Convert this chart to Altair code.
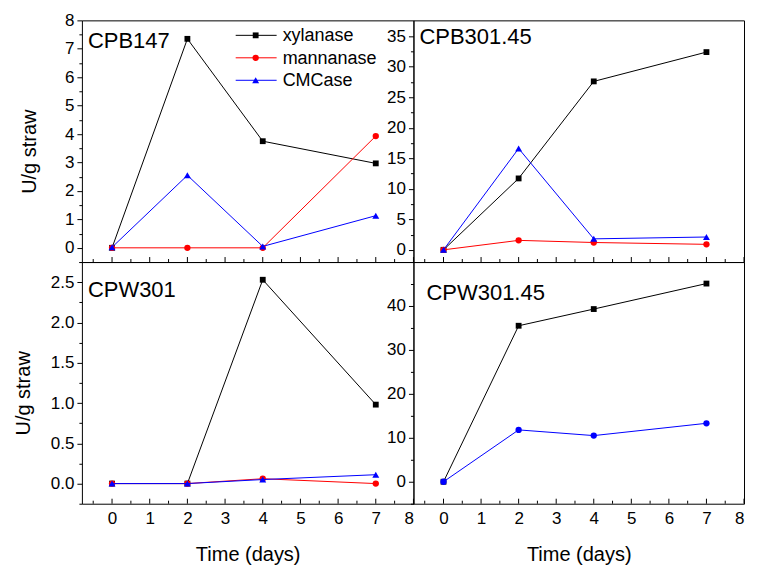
import altair as alt
import pandas as pd

# ---------------- data ----------------
days = [0, 2, 4, 7]
series_names = ["xylanase", "mannanase", "CMCase"]

cpb147 = {
    "xylanase": [0.0, 7.35, 3.75, 2.97],
    "mannanase": [0.0, 0.0, 0.0, 3.93],
    "CMCase": [0.02, 2.55, 0.05, 1.13],
}
cpb30145 = {
    "xylanase": [0.0, 11.7, 27.6, 32.4],
    "mannanase": [0.0, 1.55, 1.2, 0.9],
    "CMCase": [0.0, 16.6, 1.8, 2.1],
}
cpw301 = {
    "xylanase": [0.0, 0.0, 2.53, 0.98],
    "mannanase": [0.0, 0.0, 0.06, 0.0],
    "CMCase": [0.0, 0.0, 0.05, 0.11],
}
cpw30145 = {
    "xylanase": [0.0, 35.5, 39.3, 45.1],
    "CMCase": [0.0, 11.8, 10.5, 13.3],
}

x_major = [0, 1, 2, 3, 4, 5, 6, 7, 8]
x_minor = [-0.5, 0.5, 1.5, 2.5, 3.5, 4.5, 5.5, 6.5, 7.5]

# ---------------- style ----------------
FONT = "Liberation Sans"
W_L, W_R, H = 332, 331, 242
style = {
    "xylanase": dict(color="black", shape="square", size=34),
    "mannanase": dict(color="#FF0000", shape="circle", size=40),
    "CMCase": dict(color="#0000FF", shape="triangle-up", size=48),
}
x_scale = alt.Scale(domain=[-0.8, 8], nice=False, zero=False)


def panel(name, data, ydom, ymaj, ymin, yfmt, width, ytitle, show_x, lab_xy,
          legend=False, shape_override=None, title_x=-42):
    shape_override = shape_override or {}
    yscale = alt.Scale(domain=ydom, nice=False, zero=False)
    layers = []

    # minor y ticks
    layers.append(
        alt.Chart(pd.DataFrame({"v": ymin})).mark_point(opacity=0).encode(
            y=alt.Y("v:Q", scale=yscale,
                    axis=alt.Axis(values=ymin, labels=False, tickSize=3, domain=False,
                                  orient="left", grid=False, title=None, tickColor="black")),
        )
    )

    first = True
    for s, vals in data.items():
        st = dict(style[s])
        st.update(shape_override.get(s, {}))
        df = pd.DataFrame({"day": days, "value": vals})
        if first:
            yaxis = alt.Axis(values=ymaj, format=yfmt, tickSize=5, tickColor="black",
                             orient="left",
                             labelFontSize=17, labelPadding=3, labelColor="black",
                             domain=False, grid=False,
                             title=ytitle if ytitle else None,
                             titleFontSize=20, titleFontWeight="normal", titleColor="black",
                             titleX=title_x, titleY=131)
            if show_x:
                xaxis = alt.Axis(values=x_major, format="d", ticks=False, domain=False,
                                 orient="bottom",
                                 grid=False, labelFontSize=17, labelPadding=7,
                                 labelColor="black", title="Time (days)", titleFontSize=20,
                                 titleFontWeight="normal", titleColor="black",
                                 titlePadding=18)
            else:
                xaxis = None
        else:
            yaxis = None
            xaxis = None
        first = False
        enc = dict(
            x=alt.X("day:Q", scale=x_scale, axis=xaxis),
            y=alt.Y("value:Q", scale=yscale, axis=yaxis),
        )
        layers.append(alt.Chart(df).mark_line(color=st["color"], strokeWidth=1).encode(**enc))
        enc2 = dict(
            x=alt.X("day:Q", scale=x_scale, axis=None),
            y=alt.Y("value:Q", scale=yscale, axis=None),
        )
        layers.append(
            alt.Chart(df).mark_point(filled=True, opacity=1, color=st["color"],
                                     shape=st["shape"], size=st["size"]).encode(**enc2)
        )

    # inward x ticks
    layers.append(
        alt.Chart(pd.DataFrame({"p": x_major})).mark_rule(color="black", strokeWidth=1).encode(
            x=alt.X("p:Q", scale=x_scale, axis=None), y=alt.value(H), y2=alt.value(H - 5))
    )
    layers.append(
        alt.Chart(pd.DataFrame({"p": x_minor})).mark_rule(color="black", strokeWidth=1).encode(
            x=alt.X("p:Q", scale=x_scale, axis=None), y=alt.value(H), y2=alt.value(H - 3))
    )

    # panel label
    layers.append(
        alt.Chart(pd.DataFrame({"t": [name]})).mark_text(
            align="left", baseline="alphabetic", fontSize=22, font=FONT, color="black"
        ).encode(text="t:N", x=alt.value(lab_xy[0]), y=alt.value(lab_xy[1]))
    )

    if legend:
        for i, s in enumerate(series_names):
            st = style[s]
            ry = 15 + i * 22.5
            ldf = pd.DataFrame({"t": [s]})
            layers.append(alt.Chart(ldf).mark_rule(color=st["color"], strokeWidth=1).encode(
                x=alt.value(154), x2=alt.value(195), y=alt.value(ry)))
            layers.append(alt.Chart(ldf).mark_point(filled=True, opacity=1, color=st["color"],
                                                    shape=st["shape"], size=st["size"]).encode(
                x=alt.value(174), y=alt.value(ry)))
            layers.append(alt.Chart(ldf).mark_text(align="left", baseline="middle", fontSize=18,
                                                   font=FONT, color="black").encode(
                text="t:N", x=alt.value(201), y=alt.value(ry + 1)))

    return alt.layer(*layers).resolve_axis(x="independent", y="independent").properties(
        width=width, height=H)


p1 = panel("CPB147", cpb147, [-0.5, 8], [0, 1, 2, 3, 4, 5, 6, 7, 8],
           [0.5 * i for i in range(-1, 17) if i % 2], "d", W_L, "U/g straw", False, (6, 28),
           legend=True, title_x=-42)
p2 = panel("CPB301.45", cpb30145, [-2, 37.6], [0, 5, 10, 15, 20, 25, 30, 35],
           [2.5 * i for i in range(0, 15) if i % 2], "d", W_R, None, False, (6, 24))
p3 = panel("CPW301", cpw301, [-0.25, 2.75], [0, 0.5, 1.0, 1.5, 2.0, 2.5],
           [-0.25, 0.25, 0.75, 1.25, 1.75, 2.25, 2.75], ".1f", W_L, "U/g straw", True, (6, 35),
           title_x=-48)
p4 = panel("CPW301.45", cpw30145, [-5, 50], [0, 10, 20, 30, 40],
           [-5, 5, 15, 25, 35, 45], "d", W_R, None, True, (13, 38),
           shape_override={"CMCase": dict(shape="circle", size=40)})

chart = alt.concat(p1, p2, p3, p4, columns=2, spacing=0, bounds="flush").properties(
    padding={"left": 5, "top": 2, "right": 5, "bottom": 5}
).configure(font=FONT).configure_view(stroke="black", strokeWidth=1)

chart.save("out.html", embed_options={"renderer": "svg", "actions": False})
